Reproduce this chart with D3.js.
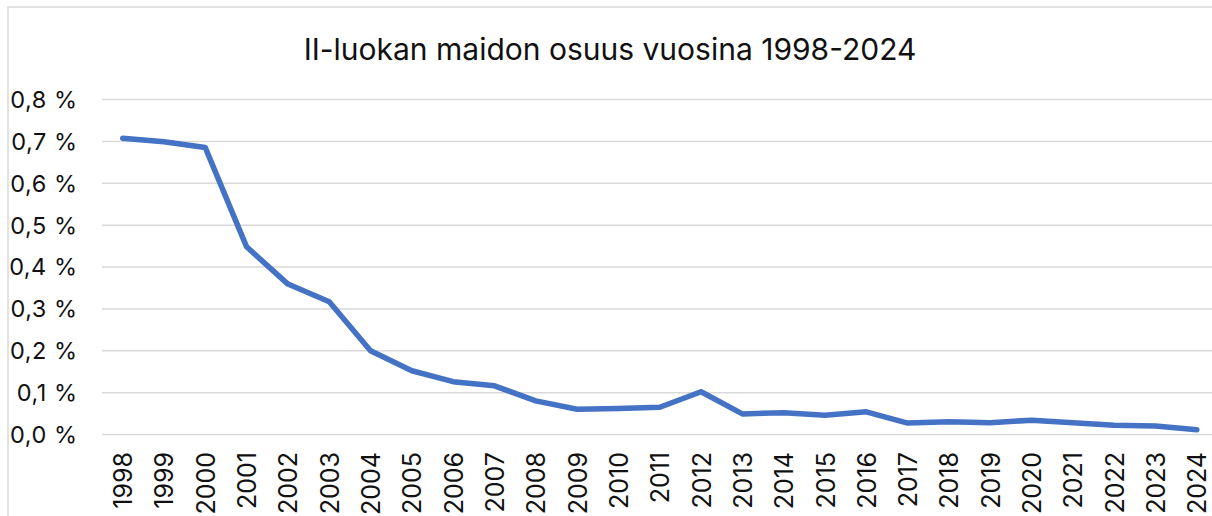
<!DOCTYPE html>
<html>
<head>
<meta charset="utf-8">
<script src="https://cdn.jsdelivr.net/npm/d3@7"></script>
<style>
  html, body { margin: 0; padding: 0; background: #fff; }
  svg { display: block; }
</style>
</head>
<body>
<svg id="chart" width="1212" height="516"></svg>
<script>
const title = "II-luokan maidon osuus vuosina 1998-2024";
const years = ["1998","1999","2000","2001","2002","2003","2004","2005","2006","2007","2008","2009","2010","2011","2012","2013","2014","2015","2016","2017","2018","2019","2020","2021","2022","2023","2024"];
const shares = [0.706,0.698,0.684,0.447,0.358,0.316,0.199,0.151,0.125,0.115,0.079,0.059,0.061,0.064,0.101,0.048,0.051,0.045,0.053,0.026,0.029,0.027,0.033,0.027,0.021,0.019,0.010];
const yTicks = [0,0.1,0.2,0.3,0.4,0.5,0.6,0.7,0.8];

const svg = d3.select("#chart");
const font = "Inter, 'Liberation Sans', Arial, sans-serif";

// chart frame
svg.append("rect")
  .attr("x", 8).attr("y", 7).attr("width", 1230).attr("height", 540)
  .attr("fill", "none").attr("stroke", "#d9d9d9").attr("stroke-width", 1.5);

const x = d3.scalePoint().domain(years).range([102, 1217.5]).padding(0.5);
const y = d3.scaleLinear().domain([0, 0.8]).range([434, 99]);

// gridlines + y labels
const yAxis = d3.axisLeft(y).tickValues(yTicks).tickSize(-(1217.5 - 102)).tickPadding(24.5)
  .tickFormat(d => d3.format(".1f")(d).replace(".", ",") + " %");
const gy = svg.append("g").attr("transform", "translate(102,0)").call(yAxis);
gy.select(".domain").remove();
gy.selectAll(".tick line").attr("stroke", "#d9d9d9").attr("stroke-width", 1.5);
gy.selectAll(".tick text")
  .attr("font-family", font).attr("font-size", 23.5).attr("fill", "#111")
  .attr("letter-spacing", 0.5)
  .attr("dy", "0.36em");

// x axis labels (rotated)
const xAxis = d3.axisBottom(x).tickSize(0).tickPadding(0);
const gx = svg.append("g").attr("transform", "translate(0,434)").call(xAxis);
gx.select(".domain").remove();
gx.selectAll(".tick text")
  .attr("font-family", font).attr("font-size", 25).attr("fill", "#111")
  .attr("text-anchor", "end")
  .attr("transform", "rotate(-90)")
  .attr("x", -18).attr("y", 0).attr("dy", "0.36em");

// line
const line = d3.line().x((d, i) => x(years[i])).y(d => y(d));
svg.append("path").datum(shares)
  .attr("d", line)
  .attr("fill", "none").attr("stroke", "#4472C4").attr("stroke-width", 5.5)
  .attr("stroke-linejoin", "round").attr("stroke-linecap", "round");

// title
svg.append("text")
  .attr("x", 610).attr("y", 60)
  .attr("text-anchor", "middle")
  .attr("font-family", font).attr("font-size", 30).attr("fill", "#111")
  .text(title);
</script>
</body>
</html>
